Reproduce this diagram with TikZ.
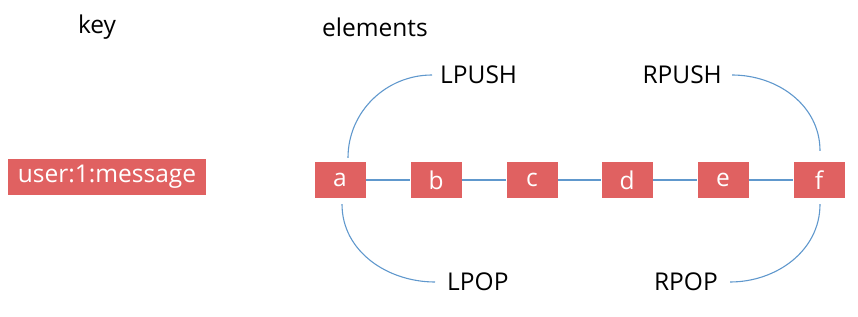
\documentclass[tikz,border=0pt]{standalone}
\usepackage{fontspec}
\setmainfont{Open Sans}
\usetikzlibrary{positioning}
\definecolor{ListRed}{RGB}{224,97,97}
\definecolor{ListBlue}{RGB}{96,152,205}

\begin{document}
\begin{tikzpicture}[x=1pt,y=1pt,
    elem/.style={fill=ListRed,text=white,minimum width=51pt,minimum height=36pt,inner sep=0pt,font=\fontsize{24.5}{28}\selectfont},
    lbl/.style={font=\fontsize{24.5}{28}\selectfont,inner sep=0pt},
    link/.style={ListBlue,line width=1.1pt}]
        \useasboundingbox (0,0) rectangle (858,316);

        \node[lbl] (key) at (97,289) {key};
        \node[lbl] (elements) at (375,289) {elements};

        \node[elem,minimum width=198pt] (keybox) at (107,139) {user:1:message};

        \foreach \n/\x in {a/340,b/436,c/532,d/627,e/723,f/819} {
          \node[elem] (\n) at (\x,136) {\n};
        }
        \foreach \p/\q in {a/b,b/c,c/d,d/e,e/f} {
          \draw[link] (\p) -- (\q);
        }

        \node[lbl,anchor=west] (lpush) at (440,241) {LPUSH};
        \node[lbl,anchor=west] (lpop) at (447,34) {LPOP};
        \node[lbl,anchor=east] (rpush) at (722,241) {RPUSH};
        \node[lbl,anchor=east] (rpop) at (718,34) {RPOP};

        \draw[link] ([xshift=8pt,yshift=4pt]a.north) to[out=90,in=180] ([xshift=-8pt]lpush.west);
        \draw[link] ([xshift=2pt,yshift=-6pt]a.south) to[out=-90,in=180] ([xshift=-12pt]lpop.west);
        \draw[link] ([xshift=1pt,yshift=11pt]f.north) to[out=90,in=0] ([xshift=10pt]rpush.east);
        \draw[link] ([xshift=1pt,yshift=-6pt]f.south) to[out=-90,in=0] ([xshift=12pt]rpop.east);
      \end{tikzpicture}
\end{document}
